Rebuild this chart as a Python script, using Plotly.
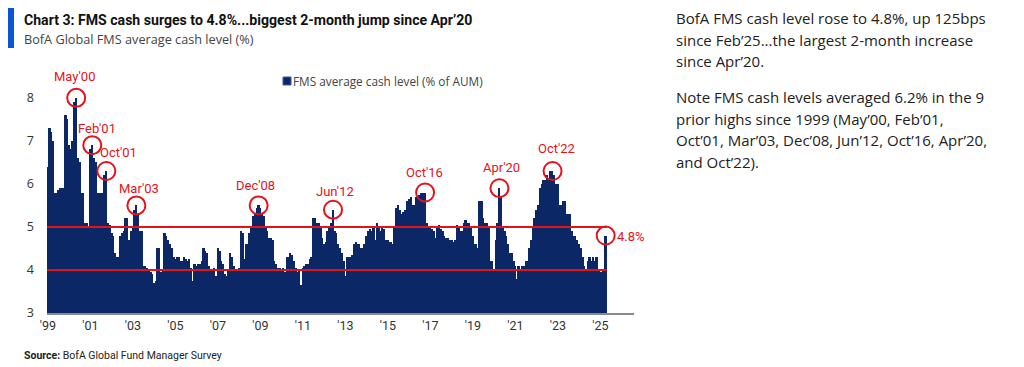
import pandas as pd
import plotly.graph_objects as go

# ---------------- data ----------------
cash_1999 = [6.4, 7.3, 7.2, 7.0, 5.8, 5.8, 5.85, 5.9, 5.9, 5.9, 7.6, 7.5]
cash_2000 = [6.9, 6.8, 7.0, 7.9, 8.0, 6.6, 6.5, 5.8, 5.8, 5.1, 5.1, 5.0]
cash_2001 = [6.8, 6.9, 6.6, 6.5, 5.8, 5.8, 5.8, 5.8, 6.2, 6.3, 5.1, 5.05]
cash_2002 = [4.85, 4.8, 4.4, 4.3, 4.3, 4.8, 4.85, 4.9, 5.2, 5.2, 4.7, 4.9]
cash_2003 = [5.0, 5.4, 5.5, 5.3, 4.9, 4.9, 4.1, 4.1, 4.05, 4.0, 3.95, 3.9]
cash_2004 = [3.7, 3.75, 4.5, 4.5, 3.95, 4.0, 4.85, 4.8, 4.7, 4.6, 4.5, 4.3]
cash_2005 = [4.25, 4.3, 4.3, 4.2, 4.2, 4.3, 4.25, 4.2, 4.25, 4.05, 3.75, 4.15]
cash_2006 = [4.1, 4.15, 4.15, 4.2, 4.5, 4.45, 4.4, 4.1, 4.0, 4.0, 4.05, 3.85]
cash_2007 = [4.5, 4.45, 4.2, 4.15, 3.9, 3.85, 4.0, 4.4, 4.3, 4.1, 4.0, 4.0]
cash_2008 = [4.05, 4.9, 4.85, 4.25, 4.6, 4.6, 4.85, 5.0, 5.25, 5.3, 5.45, 5.5]
cash_2009 = [5.45, 5.3, 5.25, 5.0, 4.9, 4.75, 4.75, 4.7, 4.2, 4.15, 4.05, 4.05]
cash_2010 = [4.0, 4.05, 3.95, 4.3, 4.3, 4.4, 4.35, 4.2, 4.05, 3.95, 4.0, 3.65]
cash_2011 = [4.05, 4.1, 4.15, 4.15, 4.25, 4.3, 5.2, 5.2, 5.1, 5.1, 5.0, 4.75]
cash_2012 = [4.6, 4.65, 4.9, 5.0, 5.1, 5.4, 4.9, 4.85, 4.6, 4.5, 4.4, 4.2]
cash_2013 = [3.85, 4.3, 4.3, 4.3, 4.35, 4.6, 4.65, 4.6, 4.6, 4.5, 4.5, 4.6]
cash_2014 = [4.8, 4.9, 4.95, 4.9, 5.0, 4.7, 5.1, 5.0, 4.9, 5.0, 4.95, 4.7]
cash_2015 = [4.7, 4.65, 4.65, 4.6, 5.0, 5.45, 5.5, 5.4, 5.3, 5.35, 5.4, 5.6]
cash_2016 = [5.65, 5.7, 5.5, 5.5, 5.7, 5.7, 5.75, 5.8, 5.8, 5.8, 5.1, 5.0]
cash_2017 = [5.0, 4.95, 4.9, 4.75, 5.0, 5.05, 4.95, 4.9, 4.8, 4.75, 4.75, 4.7]
cash_2018 = [4.7, 4.65, 4.7, 5.05, 5.0, 4.9, 4.9, 5.1, 5.15, 5.1, 5.1, 5.0]
cash_2019 = [4.8, 4.6, 4.6, 4.5, 5.6, 5.6, 5.2, 5.1, 5.1, 5.0, 4.2, 4.2]
cash_2020 = [4.0, 4.7, 5.1, 5.9, 5.7, 5.0, 4.9, 4.8, 4.6, 4.4, 4.4, 4.2]
cash_2021 = [4.1, 3.8, 4.1, 4.0, 4.1, 4.1, 4.2, 4.2, 4.5, 4.7, 5.0, 5.2]
cash_2022 = [5.4, 5.5, 5.9, 6.0, 6.1, 6.1, 6.2, 6.1, 6.3, 6.3, 6.2, 6.0]
cash_2023 = [6.0, 5.5, 5.5, 5.6, 5.6, 5.3, 5.3, 5.3, 4.9, 4.8, 4.8, 4.7]
cash_2024 = [4.6, 4.5, 4.3, 4.1, 4.0, 4.2, 4.3, 4.2, 4.3, 4.2, 4.3, 4.0]
cash_2025 = [3.95, 3.95, 4.0, 4.8]

highlight_labels = ["May'00", "Feb'01", "Oct'01", "Mar'03", "Dec'08",
                    "Jun'12", "Oct'16", "Apr'20", "Oct'22", "4.8%"]
highlight_dates = ["2000-05-01", "2001-02-01", "2001-10-01", "2003-03-01",
                   "2008-12-01", "2012-06-01", "2016-10-01", "2020-04-01",
                   "2022-10-01", "2025-04-01"]

reference_levels = [4, 5]

x_tick_dates = ["1999-01-01", "2001-01-01", "2003-01-01", "2005-01-01",
                "2007-01-01", "2009-01-01", "2011-01-01", "2013-01-01",
                "2015-01-01", "2017-01-01", "2019-01-01", "2021-01-01",
                "2023-01-01", "2025-01-01"]
x_tick_labels = ["'99", "'01", "'03", "'05", "'07", "'09", "'11", "'13",
                 "'15", "'17", "'19", "'21", "'23", "'25"]
y_ticks = [3, 4, 5, 6, 7, 8]

title_text = "Chart 3: FMS cash surges to 4.8%...biggest 2-month jump since Apr\u201920"
subtitle_text = "BofA Global FMS average cash level (%)"
series_name = "FMS average cash level (% of AUM)"
source_text = "<b>Source:</b> BofA Global Fund Manager Survey"
note_para1 = [
    "BofA FMS cash level rose to 4.8%, up 125bps",
    "since Feb\u201925...the largest 2-month increase",
    "since Apr\u201920.",
]
note_para2 = [
    "Note FMS cash levels averaged 6.2% in the 9",
    "prior highs since 1999 (May\u201900, Feb\u201901,",
    "Oct\u201901, Mar\u201903, Dec\u201908, Jun\u201912, Oct\u201916, Apr\u201920,",
    "and Oct\u201922).",
]

# ---------------- build ----------------
cash = (cash_1999 + cash_2000 + cash_2001 + cash_2002 + cash_2003 + cash_2004 +
        cash_2005 + cash_2006 + cash_2007 + cash_2008 + cash_2009 + cash_2010 +
        cash_2011 + cash_2012 + cash_2013 + cash_2014 + cash_2015 + cash_2016 +
        cash_2017 + cash_2018 + cash_2019 + cash_2020 + cash_2021 + cash_2022 +
        cash_2023 + cash_2024 + cash_2025)
dates = pd.date_range("1999-01-01", periods=len(cash), freq="MS")
series = pd.Series(cash, index=dates)
hl_vals = [float(series[pd.Timestamp(d)]) for d in highlight_dates]

NAVY = "#0b2766"
RED = "#e3121b"
OFF = 8                       # page body margin of the html page
W, H = 1024 - OFF, 367 - OFF  # figure size so that it fits the window


def px_x(p):
    """screen pixel (x) -> paper fraction"""
    return (p - OFF) / W


def px_y(p):
    """screen pixel (y, from top) -> paper fraction"""
    return 1 - (p - OFF) / H


fig = go.Figure()
fig.add_trace(go.Bar(
    x=dates, y=cash, name=series_name,
    marker=dict(color=NAVY, line=dict(width=0)),
    width=31 * 24 * 3600 * 1000, showlegend=False,
))

fig.add_trace(go.Scatter(
    x=highlight_dates, y=hl_vals, mode="markers", showlegend=False,
    marker=dict(symbol="circle-open", size=18, color=RED, line=dict(width=2, color=RED)),
    hoverinfo="skip",
))

x_start = pd.Timestamp("1998-12-16")
x_end = pd.Timestamp("2026-08-01")
line_x0 = dates[0] - pd.Timedelta(days=16)
line_x1 = dates[-1] + pd.Timedelta(days=20)
for lvl in reference_levels:
    fig.add_shape(type="line", xref="x", yref="y", x0=line_x0, x1=line_x1,
                  y0=lvl, y1=lvl, line=dict(color=RED, width=2), layer="above")

# label offsets (px) relative to circle centre
label_shift = {
    "May'00": (-2, 21), "Feb'01": (5, 17), "Oct'01": (12, 18), "Mar'03": (3, 17),
    "Dec'08": (-3, 20), "Jun'12": (2, 18), "Oct'16": (-1, 20), "Apr'20": (2, 21),
    "Oct'22": (4, 22),
}
for lab, d, v in zip(highlight_labels, highlight_dates, hl_vals):
    if lab == "4.8%":
        fig.add_annotation(x=d, y=v, xref="x", yref="y", text=lab, showarrow=False,
                           xanchor="left", xshift=9, yshift=-1,
                           font=dict(family="Roboto", size=13, color=RED))
    else:
        dx, dy = label_shift[lab]
        fig.add_annotation(x=d, y=v, xref="x", yref="y", text=lab, showarrow=False,
                           xshift=dx, yshift=dy,
                           font=dict(family="Roboto", size=13, color=RED))

# legend (drawn by hand so the swatch sits right next to the text)
fig.add_shape(type="rect", xref="paper", yref="paper",
              x0=px_x(283), x1=px_x(291), y0=px_y(85), y1=px_y(77),
              fillcolor=NAVY, line=dict(width=1, color="#3a5aa8"))
fig.add_annotation(xref="paper", yref="paper", x=px_x(291), y=px_y(80.5),
                   xanchor="left", yanchor="middle", showarrow=False,
                   text=series_name,
                   font=dict(family="Open Sans", size=11.8, color="#444"))

# title block
fig.add_shape(type="rect", xref="paper", yref="paper",
              x0=px_x(8), x1=px_x(14), y0=px_y(48), y1=px_y(6),
              fillcolor="#0a57d1", line=dict(width=0))
fig.add_annotation(xref="paper", yref="paper", x=px_x(22), y=px_y(20),
                   xanchor="left", yanchor="middle", showarrow=False,
                   text="<b>" + title_text + "</b>",
                   font=dict(family="Liberation Sans Narrow, Roboto", size=14.1, color="#111"))
fig.add_annotation(xref="paper", yref="paper", x=px_x(22), y=px_y(39),
                   xanchor="left", yanchor="middle", showarrow=False,
                   text=subtitle_text,
                   font=dict(family="Open Sans", size=12.7, color="#444"))
fig.add_annotation(xref="paper", yref="paper", x=px_x(22), y=px_y(355),
                   xanchor="left", yanchor="middle", showarrow=False,
                   text=source_text,
                   font=dict(family="Liberation Sans Narrow, Roboto", size=10.5, color="#222"))

for i, line in enumerate(note_para1):
    fig.add_annotation(xref="paper", yref="paper", x=px_x(674), y=px_y(18 + i * 21.7),
                       xanchor="left", yanchor="middle", showarrow=False,
                       text=line, font=dict(family="Open Sans", size=15, color="#222"))
for i, line in enumerate(note_para2):
    fig.add_annotation(xref="paper", yref="paper", x=px_x(674), y=px_y(97 + i * 21.7),
                       xanchor="left", yanchor="middle", showarrow=False,
                       text=line, font=dict(family="Open Sans", size=15, color="#222"))

fig.update_layout(
    width=W, height=H,
    margin=dict(l=0, r=0, t=0, b=0, autoexpand=False),
    paper_bgcolor="white", plot_bgcolor="white",
    bargap=0, showlegend=False,
    font=dict(family="Open Sans", color="#333"),
    xaxis=dict(type="date", domain=[px_x(47), px_x(634)],
               range=[x_start, x_end], automargin=False,
               tickmode="array", tickvals=x_tick_dates, ticktext=x_tick_labels,
               showgrid=False, zeroline=False, ticks="",
               showline=True, linecolor="#8a8a8a", linewidth=1.5,
               tickfont=dict(family="Liberation Sans Narrow, Roboto", size=12.5, color="#333")),
    yaxis=dict(domain=[px_y(313), px_y(72)], range=[3, 8.6], automargin=False,
               tickmode="array", tickvals=y_ticks,
               showgrid=False, zeroline=False, showline=False, ticks="",
               ticklabelstandoff=12,
               tickfont=dict(family="Open Sans", size=12.5, color="#333")),
)

fig.write_html("out.html")
